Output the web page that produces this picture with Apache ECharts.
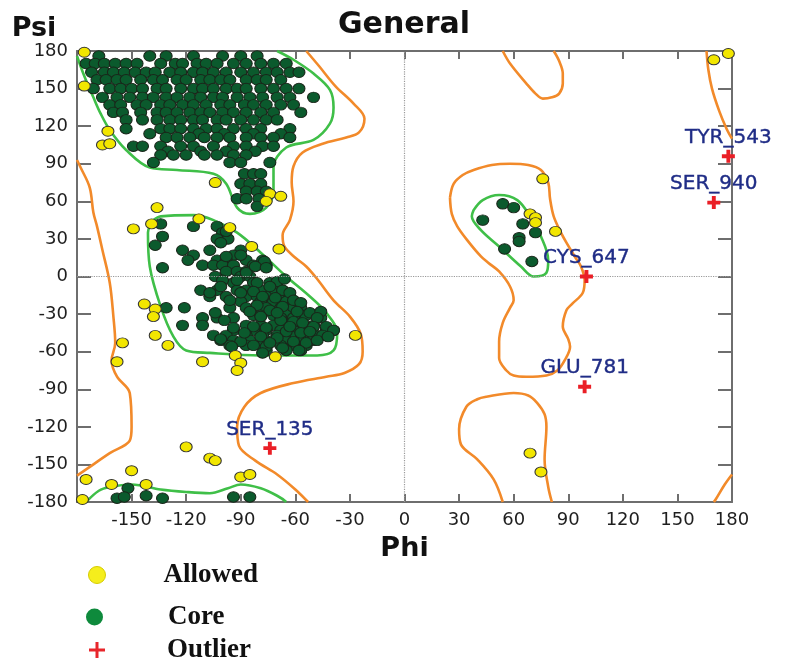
<!DOCTYPE html>
<html><head><meta charset="utf-8">
<script src="https://cdn.jsdelivr.net/npm/echarts@6/dist/echarts.min.js"></script>
<style>html,body{margin:0;padding:0;background:#fff}#c{width:785px;height:659px}</style>
</head><body><div id="c"></div>
<script>
// ---------- tick labels ----------
const phiTicks = [-150,-120,-90,-60,-30,0,30,60,90,120,150,180];
const psiTicks = [-180,-150,-120,-90,-60,-30,0,30,60,90,120,150,180];

// ---------- Core (green) points : beta region rows [psi, [phi...]] ----------
const coreBetaRows = [
 [176,[-168,-140,-131,-116,-100,-90,-81]],
 [170,[-175,-170,-165,-159,-153,-147,-134,-126,-122,-114,-109,-103,-94,-87,-79,-72,-65]],
 [163,[-172,-165,-160,-154,-148,-142,-137,-129,-123,-116,-111,-105,-98,-90,-83,-76,-70,-63,-58]],
 [157,[-169,-164,-158,-153,-145,-138,-133,-125,-120,-112,-107,-101,-96,-87,-81,-76,-68]],
 [150,[-171,-162,-156,-150,-144,-136,-131,-123,-116,-111,-105,-98,-92,-87,-79,-72,-65,-58]],
 [143,[-166,-158,-151,-144,-138,-131,-125,-118,-112,-105,-100,-92,-85,-78,-70,-63,-50]],
 [137,[-162,-156,-147,-142,-134,-129,-122,-116,-109,-101,-96,-88,-83,-76,-68,-61]],
 [131,[-160,-155,-145,-136,-131,-125,-118,-112,-107,-100,-94,-87,-79,-72,-57]],
 [125,[-153,-144,-136,-129,-123,-116,-111,-103,-98,-90,-83,-76,-70]],
 [118,[-153,-134,-129,-123,-116,-109,-103,-94,-87,-79,-63]],
 [114,[-140,-113,-99,-83,-68]],
 [111,[-131,-125,-118,-110,-103,-96,-87,-79,-72,-63]],
 [104,[-149,-144,-134,-123,-116,-105,-94,-87,-78,-72]],
 [100,[-130,-112,-98,-82]],
 [97,[-134,-127,-120,-110,-103,-94,-87]],
 [91,[-138,-96,-90,-74]],
 [82,[-88,-83,-79]],
 [74,[-90,-85,-79]],
 [68,[-87,-81,-76]],
 [62,[-92,-87,-80]],
 [56,[-81]]
];

// ---------- Core (green) points : alpha-R region [phi, psi] ----------
const coreAlpha = [
 [-134,42],[-116,40],[-103,40],[-100,35],[-133,32],[-97,30],[-103,30],[-137,25],[-122,21],[-107,21],[-90,21],
 [-116,17],[-94,17],[-119,13],[-103,13],[-98,13],[-87,13],[-78,13],[-111,9],[-105,9],[-100,9],[-94,9],[-83,9],
 [-76,9],[-133,7],[-98,4],[-92,4],[-87,4],[-104,0],[-90,0],[-85,0],[-94,-5],[-83,-5],[-74,-5],[-70,-5],
 [-112,-11],[-103,-11],[-92,-11],[-87,-11],[-79,-11],[-72,-11],[-67,-11],[-107,-16],[-98,-16],[-87,-16],
 [-81,-16],[-76,-16],[-68,-16],[-63,-16],[-90,-20],[-79,-20],[-72,-20],[-65,-20],[-61,-20],[-131,-25],
 [-121,-25],[-96,-25],[-87,-25],[-76,-25],[-68,-25],[-61,-25],[-57,-25],[-83,-31],[-79,-31],[-72,-31],
 [-65,-31],[-57,-31],[-54,-31],[-111,-33],[-103,-33],[-94,-33],[-68,-33],[-61,-33],[-46,-33],[-122,-39],
 [-111,-39],[-87,-39],[-79,-39],[-72,-39],[-65,-39],[-57,-39],[-50,-39],[-94,-43],[-83,-43],[-76,-43],
 [-68,-43],[-61,-43],[-54,-43],[-43,-43],[-39,-43],[-105,-47],[-98,-47],[-87,-47],[-78,-47],[-70,-47],
 [-63,-47],[-56,-47],[-48,-47],[-101,-51],[-94,-51],[-85,-51],[-72,-51],[-65,-51],[-57,-51],[-50,-51],
 [-96,-55],[-87,-55],[-79,-55],[-68,-55],[-61,-55],[-54,-55],[-76,-59],[-65,-59],[-57,-59],
 [-98,36],[-101,27],[-90,17],[-98,16],[-100,-3],[-92,-3],[-87,3],[-107,-13],[-101,-8],[-96,-19],[-90,-13],
 [-104,-29],[-99,-35],[-94,-41],[-101,-50],[-90,-52],[-95,-56],
 [-77,12],[-82,8],[-76,7],[-70,-4],[-81,-5],[-74,-8],[-83,-12],[-67,-11],[-63,-13],[-78,-16],[-71,-17],
 [-61,-19],[-57,-21],[-81,-23],[-67,-24],[-74,-27],[-59,-28],[-52,-29],[-46,-28],[-48,-33],[-79,-32],
 [-68,-35],[-61,-36],[-56,-37],[-50,-40],[-43,-40],[-39,-43],[-83,-40],[-76,-41],[-65,-44],[-57,-45],
 [-45,-47],[-79,-48],[-70,-49],[-61,-52],[-54,-53],[-48,-51],[-42,-48],[-83,-55],[-76,-56],[-67,-57],
 [-58,-59],[-78,-61],[-85,-28],[-70,-29],[-63,-40],[-52,-44],[-74,-53],[-88,-45],[-66,-2]
];
// ---------- Core (green) points : other regions ----------
const coreOther = [
 [-152,-169],[-158,-177],[-154,-176],[-142,-175],[-133,-177],[-94,-176],[-85,-176],
 [54,58],[60,55],[43,45],[65,42],[72,35],[63,31],[63,28],[55,22],[70,12]
];

// ---------- Allowed (yellow) points ----------
const allowedPts = [
 [-176,179],[-176,152],[-163,116],[-166,105],[-162,106],[-104,75],[-136,55],[-74,66],[-68,64],[-76,60],
 [-113,46],[-149,38],[-139,42],[-96,39],[-84,24],[-69,22],[-143,-22],[-137,-26],[-138,-32],[-137,-47],
 [-130,-55],[-155,-53],[-158,-68],[-111,-68],[-93,-63],[-90,-69],[-92,-75],[-71,-64],[-27,-47],
 [-120,-136],[-107,-145],[-104,-147],[-150,-155],[-175,-162],[-161,-166],[-142,-166],[-90,-160],[-85,-158],
 [-177,-178],[170,173],[178,178],[76,78],[69,50],[72,47],[72,43],[83,36],[69,-141],[75,-156]
];

// ---------- Outliers ----------
const outlierNames = ['TYR_543','SER_940','CYS_647','GLU_781','SER_135'];
const outlierPts = [[178,96],[170,59],[100,0],[99,-88],[-74,-137]];

// ---------- Contours (allowed = orange, core = green) ----------
const orangeMain = [[-54,180],[-47,168],[-38,152],[-28,138],[-22,126],[-25,115],[-32,111],[-45,106],[-56,99],
 [-61,88],[-62,75],[-61,60],[-63,45],[-67,33],[-66,24],[-60,15],[-54,8],[-48,-2],[-39,-19],[-30,-32],[-24,-46],
 [-23,-60],[-25,-70],[-33,-77],[-43,-80],[-61,-85],[-79,-93],[-88,-104],[-92,-120],[-91,-135],[-82,-147],
 [-70,-158],[-60,-170],[-53,-180]];
const orangeLeft = [[-180,93],[-178,87],[-173,71],[-171,51],[-169,40],[-166,21],[-162,-5],[-160,-32],[-159,-53],
 [-161,-67],[-158,-80],[-151,-93],[-150,-120],[-151,-131],[-162,-141],[-175,-154],[-180,-159]];
const orangeRightTop = [[166,180],[167,165],[169,150],[173,132],[177,118],[180,110]];
const orangeRightBottom = [[180,-158],[176,-166],[171,-178],[170,-180]];
const orangeTopMid = [[54,180],[58,170],[67,154],[72,146],[76,142],[81,143],[85,146],[87,154],[87,162],[85,172],[82,180]];
const orangeBottomMid = [[54,-180],[49,-162],[40,-146],[31,-134],[30,-122],[34,-104],[40,-98],[45,-96],[60,-93],
 [68,-95],[73,-101],[77,-110],[78,-120],[77,-146],[79,-168],[81,-180]];
const orangeAlphaL = [[25,63],[27,74],[32,81],[38,85],[48,89],[58,90],[68,89],[75,85],[79,75],[80,62],[82,48],
 [86,35],[89,27],[94,15],[97,8],[99,-3],[98,-13],[92,-22],[89,-27],[87,-40],[90,-50],[91,-56],[88,-67],[84,-75],
 [78,-79],[67,-80],[60,-79],[56,-75],[52,-65],[52,-52],[54,-37],[58,-25],[60,-19],[58,-8],[52,4],[46,11],
 [42,16],[35,28],[29,40],[26,50],[25,63]];
const greenBeta = [[-180,176],[-176,160],[-171,143],[-167,130],[-162,117],[-153,101],[-140,87],[-125,85],[-105,82],
 [-98,74],[-92,55],[-85,50],[-76,55],[-72,69],[-72,87],[-65,103],[-50,109],[-41,122],[-39,135],[-41,149],
 [-50,162],[-61,173],[-70,180]];
const greenBottom = [[-175,-180],[-168,-171],[-162,-168],[-150,-166],[-134,-170],[-120,-172],[-107,-173],
 [-97,-169],[-90,-166],[-79,-169],[-70,-175],[-65,-180]];
const greenAlphaR = [[-138,45],[-134,48],[-116,49],[-105,45],[-92,35],[-79,19],[-65,0],[-52,-16],[-43,-29],
 [-37,-45],[-39,-59],[-48,-63],[-79,-63],[-107,-61],[-120,-59],[-127,-48],[-134,-24],[-140,8],[-141,35],[-138,45]];
const greenAlphaL = [[38,53],[43,61],[52,65],[62,61],[69,48],[75,32],[79,13],[78,3],[71,0],[64,8],[52,24],
 [42,37],[37,48],[38,53]];

// ---------- build ----------
const corePts = [];
coreBetaRows.forEach(r => r[1].forEach(p => corePts.push([p, r[0]])));
coreAlpha.forEach(p => corePts.push(p));
coreOther.forEach(p => corePts.push(p));

const ORANGE = '#F28A2A', GREEN = '#3FBF48';
function contour(data, color) {
  return {type:'line', data, smooth:0.35, showSymbol:false, symbol:'none', silent:true, z:1,
    lineStyle:{color, width:2.6}, legendHoverLink:false, tooltip:{show:false}};
}
const plus = 'path://M0,4.2H4.2V0H7.8V4.2H12V7.8H7.8V12H4.2V7.8H0Z';
const axisGray = '#6e6e6e';
const tickFont = {fontFamily:'DejaVu Sans', fontSize:18, color:'#1e1e1e'};

function xAx(pos, show) {
  return {type:'value', min:-180, max:180, interval:30, position:pos,
    axisLine:{show:true, onZero:false, lineStyle:{color:axisGray, width:2}},
    axisTick:{show:true, inside:true, length:8, lineStyle:{color:axisGray, width:2}},
    splitLine:{show:false},
    axisLabel: show ? Object.assign({show:true, margin:9, showMinLabel:false,
       formatter: v => phiTicks.includes(v) ? String(v) : ''}, tickFont) : {show:false},
    name: show ? 'Phi' : '', nameLocation:'middle', nameGap:33,
    nameTextStyle:{fontFamily:'DejaVu Sans', fontWeight:'bold', fontSize:27, color:'#111'}};
}
function yAx(pos, show) {
  return {type:'value', min:-180, max:180, interval:30, position:pos,
    axisLine:{show:true, onZero:false, lineStyle:{color:axisGray, width:2}},
    axisTick:{show:true, inside:true, length:14, lineStyle:{color:axisGray, width:2}},
    splitLine:{show:false},
    axisLabel: show ? Object.assign({show:true, margin:9,
       formatter: v => psiTicks.includes(v) ? String(v) : ''}, tickFont) : {show:false},
    name: show ? 'Psi' : '', nameLocation:'end', nameGap:5,
    nameTextStyle:{fontFamily:'DejaVu Sans', fontWeight:'bold', fontSize:27, color:'#111', padding:[0,86,0,0]}};
}

const legendText = {fontFamily:'Liberation Serif', fontWeight:'bold', fontSize:27, color:'#111', lineHeight:28};
const option = {
  animation:false,
  backgroundColor:'#fff',
  title:{text:'General', left:338, top:10, padding:0,
    textStyle:{fontFamily:'DejaVu Sans', fontWeight:'bold', fontSize:30, color:'#111'}},
  grid:{left:77, right:53, top:51, bottom:157, containLabel:false},
  xAxis:[xAx('bottom', true), xAx('top', false)],
  yAxis:[yAx('left', true), yAx('right', false)],
  legend:[
    {data:[{name:'Allowed', icon:'circle', itemStyle:{color:'#F5EE1C', borderColor:'#d6cc00', borderWidth:1}}],
     left:88, top:561, padding:0, itemWidth:19, itemHeight:17,
     textStyle:Object.assign({padding:[0,0,0,52]}, legendText), selectedMode:false},
    {data:[{name:'Core', icon:'circle', itemStyle:{color:'#0E8A3C', borderWidth:0}}],
     left:86, top:603, padding:0, itemWidth:19, itemHeight:17,
     textStyle:Object.assign({padding:[0,0,0,59]}, legendText), selectedMode:false},
    {data:[{name:'Outlier', icon:'path://M0,6.5H6.5V0H9.5V6.5H16V9.5H9.5V16H6.5V9.5H0Z', itemStyle:{color:'#E8262B'}}],
     left:89, top:636, padding:0, itemWidth:16, itemHeight:16,
     textStyle:Object.assign({padding:[0,0,0,57]}, legendText), selectedMode:false}
  ],
  series:[
    contour(orangeMain, ORANGE), contour(orangeLeft, ORANGE), contour(orangeRightTop, ORANGE),
    contour(orangeRightBottom, ORANGE), contour(orangeTopMid, ORANGE), contour(orangeBottomMid, ORANGE),
    contour(orangeAlphaL, ORANGE),
    contour(greenBeta, GREEN), contour(greenBottom, GREEN), contour(greenAlphaR, GREEN), contour(greenAlphaL, GREEN),
    {type:'line', data:[], silent:true,
      markLine:{silent:true, symbol:['none','none'], label:{show:false},
        lineStyle:{type:'dotted', color:'#9a9a9a', width:1.2},
        data:[{xAxis:0},{yAxis:0}]}},
    {name:'Core', type:'scatter', data:corePts, symbol:'circle', symbolSize:[12,10.5], z:3,
      itemStyle:{color:'#0B5A2D', borderColor:'#1a261a', borderWidth:1, opacity:1}},
    {name:'Allowed', type:'scatter', data:allowedPts, symbol:'circle', symbolSize:[12,10], z:4,
      itemStyle:{color:'#F2E600', borderColor:'#333', borderWidth:1, opacity:1}},
    {name:'Outlier', type:'scatter', z:5,
      data: outlierPts.map((p,i)=>({value:p, name:outlierNames[i]})),
      symbol:plus, symbolSize:13, itemStyle:{color:'#EA1F26', opacity:1},
      label:{show:true, position:'top', distance:2, formatter:'{b}', color:'#1F2C86',
        fontFamily:'DejaVu Sans', fontSize:20, textBorderColor:'#1F2C86', textBorderWidth:0.4}}
  ]
};
const chart = echarts.init(document.getElementById('c'), null, {renderer:'canvas'});
chart.setOption(option);
</script>
</body></html>
